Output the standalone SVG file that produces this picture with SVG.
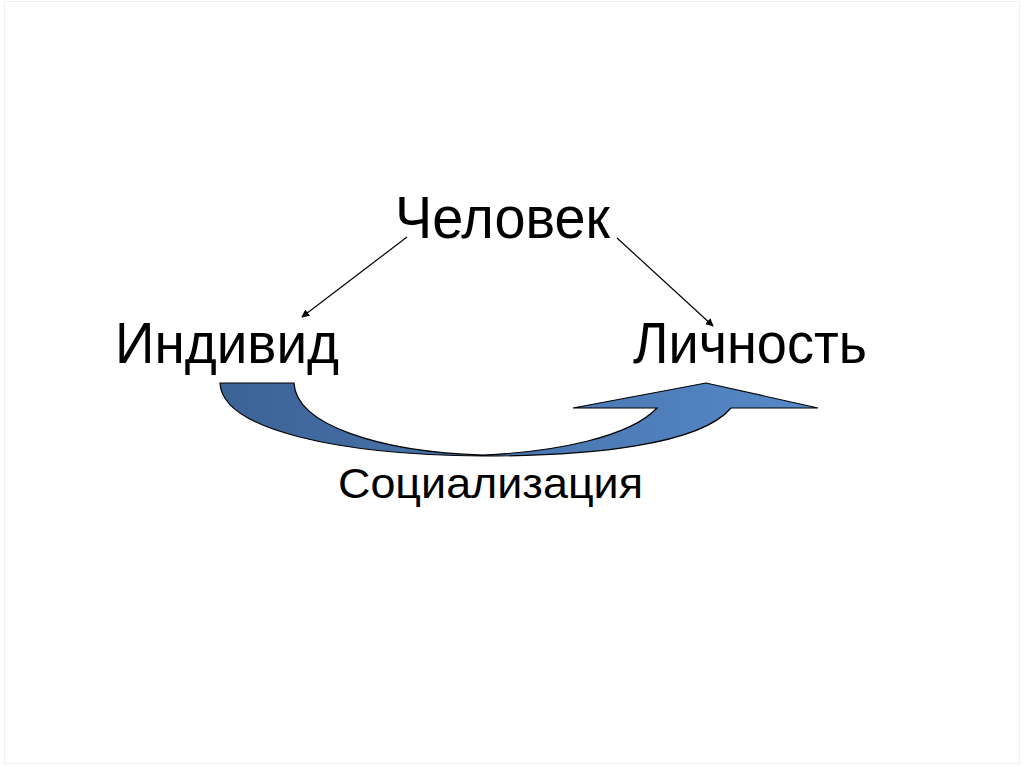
<svg xmlns="http://www.w3.org/2000/svg" width="1024" height="767" viewBox="0 0 1024 767">
  <defs>
    <style>
      .lbl { font-family: "Liberation Sans", Arial, sans-serif; fill: #000; }
      .conn { stroke: #000; stroke-width: 1.2; fill: none; }
    </style>
    <marker id="ah" viewBox="0 0 10 10" refX="9" refY="5" markerWidth="8" markerHeight="8" markerUnits="userSpaceOnUse" orient="auto">
      <path d="M0,0 L10,5 L0,10 Z" fill="#000"/>
    </marker>
    <linearGradient id="g" gradientUnits="userSpaceOnUse" x1="220" y1="0" x2="818" y2="0">
      <stop offset="0" stop-color="#3c6396"/>
      <stop offset="1" stop-color="#5689c8"/>
    </linearGradient>
  </defs>
  <rect x="0" y="0" width="1024" height="767" fill="#fff"/>
  <rect x="4.5" y="1.5" width="1015" height="762" fill="none" stroke="#f0f0f0" stroke-width="1"/>

  <g id="connectors">
    <line class="conn" x1="407" y1="237" x2="302" y2="317" marker-end="url(#ah)"/>
    <line class="conn" x1="617" y1="238" x2="713" y2="326" marker-end="url(#ah)"/>
    <path id="socialization-arrow" d="M220,383 L294,383 C296,425 380,452 483,455 C555,452 630,437 657,408 L573,408 L706,383 L818,408 L731,408 C700,445 590,456 483,456 C340,455 222,430 220,383 Z" fill="url(#g)" stroke="#000" stroke-width="1.2" stroke-linejoin="miter"/>
  </g>

  <g id="node-chelovek">
    <text class="lbl" x="395" y="238" font-size="60" textLength="215" lengthAdjust="spacingAndGlyphs">Человек</text>
  </g>
  <g id="node-individ">
    <text class="lbl" x="115" y="363" font-size="57" textLength="224" lengthAdjust="spacingAndGlyphs">Индивид</text>
  </g>
  <g id="node-lichnost">
    <text class="lbl" x="633" y="363" font-size="57" textLength="234" lengthAdjust="spacingAndGlyphs">Личность</text>
  </g>
  <g id="node-socializaciya">
    <text class="lbl" x="338" y="498" font-size="42" textLength="305" lengthAdjust="spacingAndGlyphs">Социализация</text>
  </g>
</svg>
